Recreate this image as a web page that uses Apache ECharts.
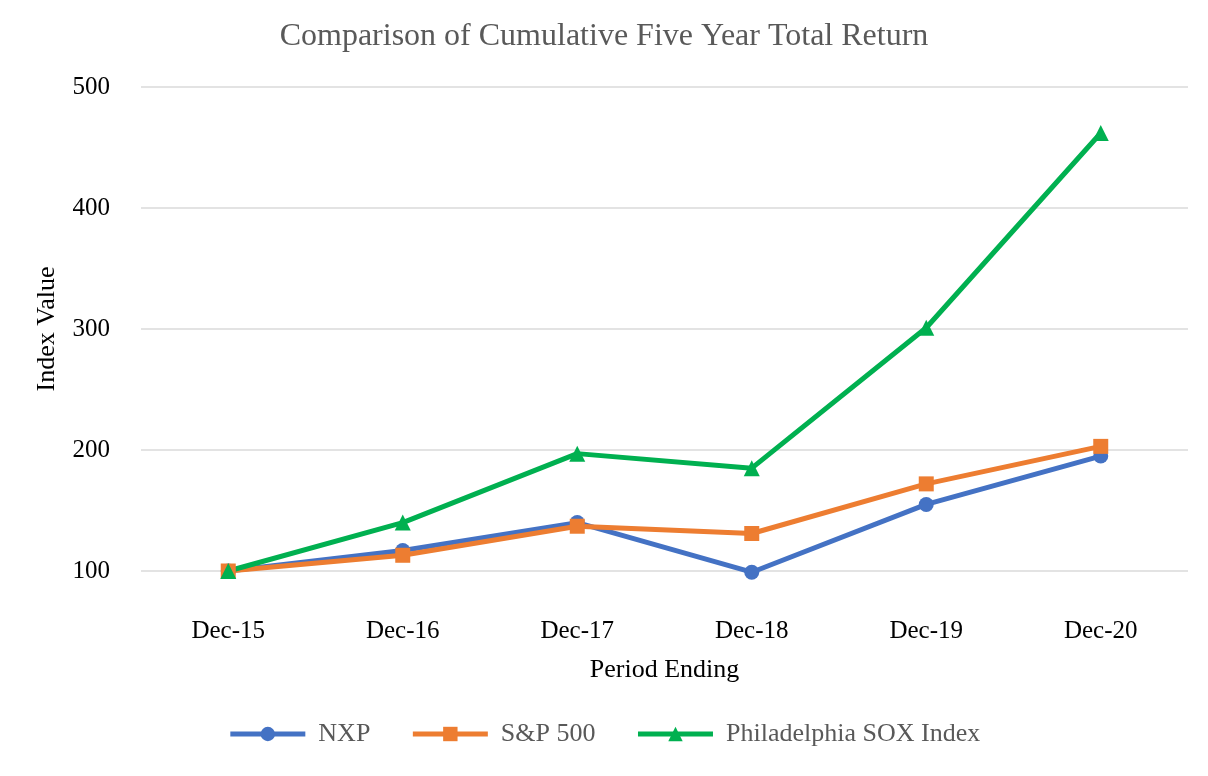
<!DOCTYPE html>
<html><head><meta charset="utf-8">
<script src="https://cdn.jsdelivr.net/npm/echarts@6/dist/echarts.min.js"></script>
<style>html,body{margin:0;padding:0;background:#fff}#c{width:1208px;height:776px}</style>
</head><body><div id="c"></div>
<script>
const categories = ['Dec-15','Dec-16','Dec-17','Dec-18','Dec-19','Dec-20'];
const nxp = [100, 117, 140, 99, 155, 195];
const sp500 = [100, 113, 137, 131, 172, 203];
const sox = [100, 140, 197, 185, 301, 462];
const seriesNames = ['NXP', 'S&P 500', 'Philadelphia SOX Index'];
const yTicks = [100, 200, 300, 400, 500];

const font = 'Liberation Serif, Times New Roman, serif';
const chart = echarts.init(document.getElementById('c'));
const mk = (name, data, color, symbol, size) => ({
  name, type: 'line', data, symbol, symbolSize: size, clip: false,
  lineStyle: {width: 5, color}, itemStyle: {color},
  z: 3
});
chart.setOption({
  animation: false,
  title: {text: 'Comparison of Cumulative Five Year Total Return', left: 'center', top: 16,
    textStyle: {fontFamily: font, fontSize: 32, fontWeight: 'normal', color: '#595959'}},
  grid: {left: 141, right: 20, top: 87, bottom: 205},
  legend: {bottom: 24, left: 'center', itemWidth: 75, itemHeight: 18, itemGap: 40,
    lineStyle: {width: 5},
    textStyle: {fontFamily: font, fontSize: 26, color: '#595959', padding: [0, 0, 0, 8]},
    data: seriesNames},
  xAxis: {type: 'category', data: categories, boundaryGap: true,
    name: 'Period Ending', nameLocation: 'middle', nameGap: 86,
    nameTextStyle: {fontFamily: font, fontSize: 26, color: '#000'},
    axisLine: {show: false}, axisTick: {show: false},
    axisLabel: {fontFamily: font, fontSize: 25, color: '#000', margin: 48}},
  yAxis: {type: 'value', min: yTicks[0], max: yTicks[yTicks.length-1], interval: 100,
    name: 'Index Value', nameLocation: 'middle', nameGap: 81, nameRotate: 90,
    nameTextStyle: {fontFamily: font, fontSize: 26, color: '#000'},
    axisLine: {show: false}, axisTick: {show: false},
    axisLabel: {fontFamily: font, fontSize: 25, color: '#000', margin: 31},
    splitLine: {lineStyle: {color: '#e3e3e3', width: 2}}},
  series: [
    mk(seriesNames[0], nxp, '#4472C4', 'circle', 15),
    mk(seriesNames[1], sp500, '#ED7D31', 'rect', 15),
    mk(seriesNames[2], sox, '#00B050', 'triangle', 16)
  ]
});
</script></body></html>
